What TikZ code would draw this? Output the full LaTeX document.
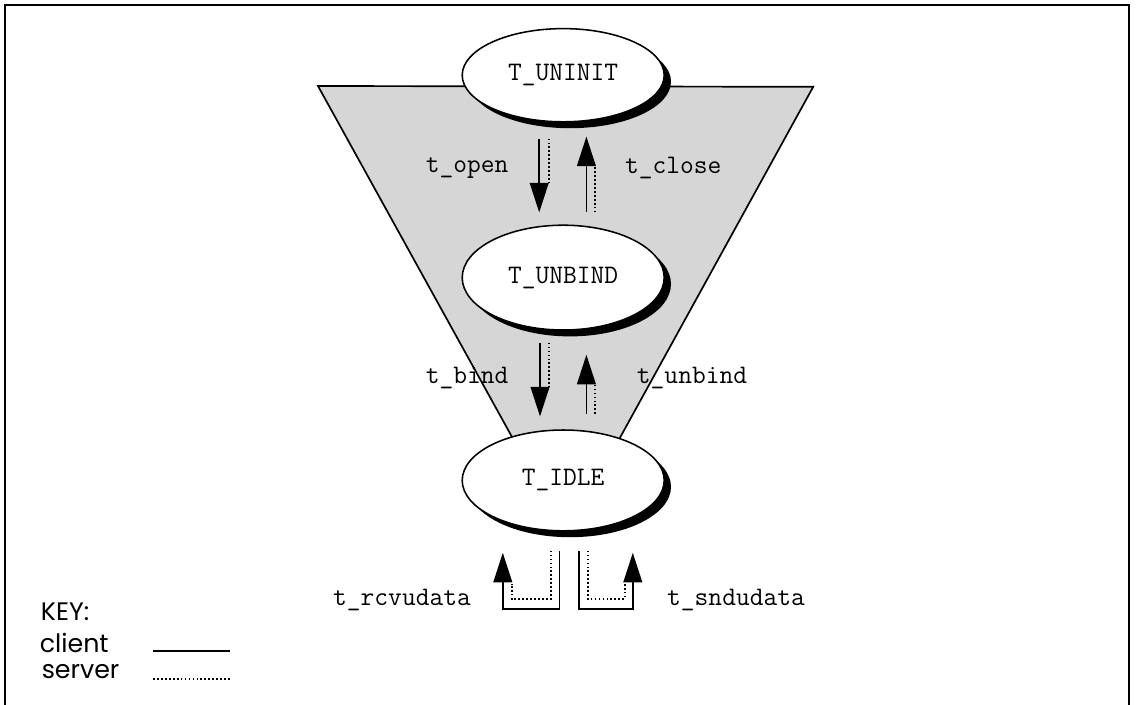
\documentclass[tikz,border=0pt]{standalone}
\usepackage{fontspec}
\newfontfamily\keyfont{Poppins}
\usetikzlibrary{shapes.geometric,shadows,arrows.meta}

\tikzset{
  state/.style={ellipse, draw, line width=1.1pt, fill=white,
    minimum width=5.05cm, minimum height=2.55cm, inner sep=0pt,
    font=\fontsize{19}{20}\selectfont\ttfamily,
    drop shadow={fill=black, opacity=1, shadow xshift=0.17cm, shadow yshift=-0.16cm}},
  call/.style={font=\fontsize{19}{20}\selectfont\ttfamily},
  keytext/.style={anchor=base west, font=\keyfont\fontsize{18}{20}\selectfont},
  client/.style={line width=1.1pt},
  server/.style={line width=1.5pt, dash pattern=on 1.2pt off 1.6pt},
  clientarrow/.style={-{Triangle[length=0.74cm,width=0.47cm]}}
}

\begin{document}
\begin{tikzpicture}
\useasboundingbox (0,0) rectangle (28.4,-17.6);

% frame (open at the bottom)
\draw[line width=1.4pt] (0.13,-17.9) -- (0.13,-0.13) -- (28.22,-0.13) -- (28.22,-17.9);

% shaded funnel behind the states
\draw[line width=1.2pt, fill=black!16] (7.95,-2.15) -- (20.33,-2.17) -- (15.33,-11.25) -- (12.98,-11.25) -- cycle;

% states
\node[state, minimum height=2.33cm] (uninit) at (14.08,-1.88) {T\_UNINIT};
\node[state, minimum height=2.62cm] (unbind) at (14.08,-6.94) {T\_UNBIND};
\node[state, minimum height=2.52cm] (idle) at (14.08,-12.01) {T\_IDLE};

% t_open / t_close
\draw[client, clientarrow] ([shift={(-0.6,-0.4)}]uninit.south) -- ([shift={(-0.6,0.3)}]unbind.north);
\draw[server] ([shift={(-0.35,-0.4)}]uninit.south) -- ([shift={(-0.35,1.04)}]unbind.north);
\draw[client, clientarrow] ([shift={(0.58,0.3)}]unbind.north) -- ([shift={(0.58,-0.35)}]uninit.south);
\draw[server] ([shift={(0.8,0.3)}]unbind.north) -- ([shift={(0.8,-1.09)}]uninit.south);

\node[call] (open) at (11.68,-4.2) {t\_open};
\node[call] (close) at (16.83,-4.2) {t\_close};

% t_bind / t_unbind
\draw[client, clientarrow] ([shift={(-0.58,-0.3)}]unbind.south) -- ([shift={(-0.58,0.32)}]idle.north);
\draw[server] ([shift={(-0.35,-0.3)}]unbind.south) -- ([shift={(-0.35,1.06)}]idle.north);
\draw[client, clientarrow] ([shift={(0.58,0.38)}]idle.north) -- ([shift={(0.58,-0.6)}]unbind.south);
\draw[server] ([shift={(0.8,0.38)}]idle.north) -- ([shift={(0.8,-1.3)}]unbind.south);

\node[call] (bind) at (11.68,-9.45) {t\_bind};
\node[call] (unbindcall) at (17.3,-9.45) {t\_unbind};

% data transfer loops under T_IDLE
\draw[client, clientarrow] ([shift={(-0.09,-0.48)}]idle.south) |- ([shift={(-1.51,-1.93)}]idle.south) -- ([shift={(-1.51,-0.53)}]idle.south);
\draw[server] ([shift={(-0.31,-0.48)}]idle.south) |- ([shift={(-1.29,-1.68)}]idle.south) -- ([shift={(-1.29,-1.3)}]idle.south);
\draw[client, clientarrow] ([shift={(0.39,-0.48)}]idle.south) |- ([shift={(1.74,-1.93)}]idle.south) -- ([shift={(1.74,-0.53)}]idle.south);
\draw[server] ([shift={(0.61,-0.48)}]idle.south) |- ([shift={(1.54,-1.68)}]idle.south) -- ([shift={(1.54,-1.3)}]idle.south);

\node[call] (rcvudata) at (10.05,-15.0) {t\_rcvudata};
\node[call] (sndudata) at (18.4,-15.0) {t\_sndudata};

% key
\node[keytext] (key) at (0.9,-15.5) {KEY:};
\node[keytext] (clientkey) at (0.87,-16.3) {client};
\node[keytext] (serverkey) at (0.92,-16.95) {server};
\draw[client] (3.83,-16.28) -- (5.75,-16.28);
\draw[server] (3.83,-16.98) -- (5.78,-16.98);

\end{tikzpicture}
\end{document}
